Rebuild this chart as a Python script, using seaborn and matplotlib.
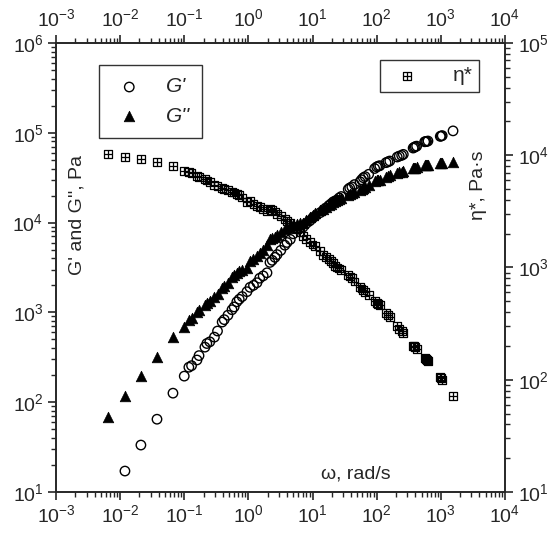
import numpy as np
import pandas as pd
import matplotlib
matplotlib.use('Agg')
import matplotlib.pyplot as plt
import seaborn as sns
from matplotlib.path import Path
from matplotlib.ticker import LogLocator, NullFormatter

# Master curve readings: frequency (rad/s), storage / loss modulus (Pa), complex viscosity (Pa s)
omega = [0.0065, 0.0119, 0.0211, 0.0376, 0.0667, 0.100, 0.118, 0.158, 0.21, 0.225,
         0.295, 0.39, 0.42, 0.555, 0.66, 0.72, 0.95, 1.06, 1.36, 1.5,
         1.95, 2.17, 2.6, 2.8, 3.7, 4.5, 5.7, 7.1, 8.0, 9.1,
         11.0, 13.2, 14.5, 18.0, 21.0, 24.0, 28.0, 38.0, 45.0, 55.0,
         62.0, 75.0, 100.0, 112.0, 150.0, 209.0, 245.0, 370.0, 400.0, 560.0,
         600.0, 980.0, 1050.0, 1550.0,
         # overlapping points of the shifted sweeps
         0.13, 0.17, 0.25, 0.33, 0.48, 0.60, 0.80, 1.2, 1.7, 2.35,
         3.2, 4.0, 5.0, 6.3, 10.0, 16.0, 19.5, 22.5, 26.0, 36.0,
         41.0, 58.0, 66.0, 93.0, 106.0, 140.0, 160.0, 225.0, 260.0, 385.0,
         420.0, 580.0, 630.0, 1010.0]
g_storage = [np.nan, 17.1, 33.3, 64.6, 126, 195, 245, 295, 410, 450,
             530, 780, 830, 1070, 1310, 1400, 1700, 1900, 2140, 2400,
             2760, 3600, 4100, 4400, 5600, 6500, 8700, 8900, 9800, 10500,
             11800, 12900, 13500, 15500, 17000, 17800, 19500, 24300, 26500, 28500,
             31600, 34500, 41700, 43000, 47500, 53700, 56000, 67600, 70000, 79400,
             80000, 91200, 93000, 105000,
             255, 330, 470, 620, 930, 1150, 1500, 2000, 2550, 3800,
             4900, 6000, 7500, 8800, 11200, 14500, 16200, 17400, 18800, 23500,
             25000, 30000, 32500, 40000, 42500, 46500, 48500, 55000, 57500, 69000,
             71000, 79800, 81000, 92000]
g_loss = [68, 118, 195, 318, 532, 690, 822, 1000, 1200, 1260,
          1480, 1860, 1950, 2450, 2750, 2900, 3160, 3700, 4200, 4600,
          5600, 6500, 6900, 7200, 8500, 8900, 9600, 10000, 10700, 11500,
          12800, 13800, 14300, 15800, 16800, 17800, 18800, 21000, 22000, 22900,
          24500, 26000, 29500, 30000, 33000, 35500, 37000, 40700, 41000, 43700,
          44000, 45700, 46000, 47300,
          870, 1050, 1350, 1600, 2150, 2600, 3000, 3900, 5000, 6700,
          7900, 8700, 9300, 9800, 12200, 15000, 16300, 17300, 18300, 20500,
          21300, 23800, 25000, 29000, 29800, 32500, 33500, 36300, 37500, 41000,
          41500, 43800, 44300, 45800]
eta = [10200, 9650, 9270, 8710, 8020, 7240, 7100, 6500, 6100, 5950,
       5400, 5100, 5000, 4700, 4550, 4400, 3800, 3900, 3500, 3450,
       3200, 3350, 3150, 3000, 2700, 2500, 2200, 1900, 1800, 1700,
       1550, 1400, 1300, 1200, 1100, 1000, 950, 830, 750, 670,
       630, 570, 480, 460, 380, 300, 270, 200, 195, 155,
       150, 105, 100, 72,
       6900, 6400, 5800, 5300, 4900, 4650, 4200, 3650, 3300, 3250,
       2850, 2600, 2350, 2050, 1600, 1250, 1150, 1030, 980, 860,
       800, 650, 610, 500, 470, 395, 360, 285, 260, 198,
       188, 152, 147, 103]

x_ticks = [1e-3, 1e-2, 1e-1, 1e0, 1e1, 1e2, 1e3, 1e4]

df = pd.DataFrame({'omega': omega, 'Gp': g_storage, 'Gpp': g_loss, 'eta': eta})

sns.set_style('ticks')
plt.rcParams['font.family'] = ['Liberation Sans', 'DejaVu Sans']
plt.rcParams['mathtext.fontset'] = 'custom'
plt.rcParams['mathtext.rm'] = 'Liberation Sans'
plt.rcParams['axes.linewidth'] = 1.2

# square with a cross inside
sq_cross = Path([(-1, -1), (1, -1), (1, 1), (-1, 1), (-1, -1),
                 (0, -1), (0, 1), (-1, 0), (1, 0)],
                [Path.MOVETO, Path.LINETO, Path.LINETO, Path.LINETO, Path.CLOSEPOLY,
                 Path.MOVETO, Path.LINETO, Path.MOVETO, Path.LINETO])

fig = plt.figure(figsize=(5.54, 5.34), dpi=100)
ax = fig.add_axes([0.101, 0.0787, 0.8105, 0.8408])
ax2 = ax.twinx()

sns.scatterplot(data=df, x='omega', y='Gp', ax=ax, marker='o', s=46,
                facecolors='none', edgecolor='black', linewidth=1.0, label="G'", legend=False)
sns.scatterplot(data=df, x='omega', y='Gpp', ax=ax, marker='^', s=58,
                color='black', edgecolor='black', linewidth=0.5, label="G''", legend=False)
sns.scatterplot(data=df, x='omega', y='eta', ax=ax2, marker=sq_cross, s=32,
                facecolors='none', edgecolor='black', linewidth=0.9, label='η*', legend=False)

for a in (ax, ax2):
    a.set_xscale('log')
    a.set_yscale('log')
    a.set_xlim(1e-3, 1e4)
    a.set_xlabel('')
    a.set_ylabel('')
ax.set_ylim(1e1, 1e6)
ax2.set_ylim(1e1, 1e5)
ax.set_xticks(x_ticks)
ax.xaxis.set_minor_locator(LogLocator(base=10, subs=np.arange(2, 10), numticks=20))
ax.xaxis.set_minor_formatter(NullFormatter())

ax.tick_params(axis='both', which='major', direction='out', length=6, width=1.2,
               labelsize=14, top=True, labeltop=True, pad=3)
ax.tick_params(axis='both', which='minor', direction='out', length=3.5, width=1.0, top=True)
ax2.tick_params(axis='y', which='major', direction='out', length=6, width=1.2, labelsize=14)
ax2.tick_params(axis='y', which='minor', direction='out', length=3.5, width=1.0)

ax.text(0.047, 0.617, "G' and G'', Pa", transform=ax.transAxes, rotation=90,
        ha='center', va='center', fontsize=14)
ax.text(0.94, 0.684, 'η*, Pa·s', transform=ax.transAxes, rotation=90,
        ha='center', va='center', fontsize=14)
ax.text(0.668, 0.04, 'ω, rad/s', transform=ax.transAxes,
        ha='center', va='center', fontsize=14)

h1, l1 = ax.get_legend_handles_labels()
leg1 = ax.legend(h1, l1, loc='upper left', bbox_to_anchor=(0.096, 0.951), borderaxespad=0,
                 frameon=True, fancybox=False, edgecolor='black',
                 prop={'size': 15, 'style': 'italic'}, handlelength=1.7,
                 handletextpad=0.9, borderpad=0.6, labelspacing=0.5)
leg1.get_frame().set_linewidth(1.0)
leg1.set_zorder(5)
h2, l2 = ax2.get_legend_handles_labels()
leg2 = ax2.legend(h2, l2, loc='upper right', bbox_to_anchor=(0.942, 0.962), borderaxespad=0,
                  frameon=True, fancybox=False, edgecolor='black', prop={'size': 15},
                  handletextpad=1.2, borderpad=0.3)
leg2.get_frame().set_linewidth(1.0)

fig.savefig('out.png', dpi=100)
